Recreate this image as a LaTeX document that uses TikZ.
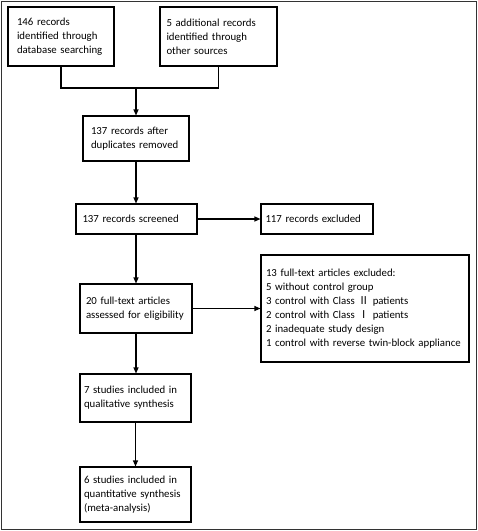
\documentclass[tikz,border=0pt]{standalone}
\usepackage{fontspec}
\setmainfont{Carlito}
\newfontfamily\cjkf{Noto Sans CJK SC}
\usetikzlibrary{arrows.meta}
\hyphenpenalty=10000
\exhyphenpenalty=10000
\tikzset{
  bx/.style n args={3}{draw, line width=1.1pt, rectangle, inner ysep=0pt,
    inner xsep=#3, text width=#1-2*#3, minimum height=#2, align=left,
    font=\fontsize{10.8}{13.9}\selectfont},
  arr/.style={line width=1.1pt, -{Triangle[length=6pt,width=5pt]}},
  ln/.style={line width=1.1pt}
}
\begin{document}
\begin{tikzpicture}[x=1pt,y=1pt]
\useasboundingbox (0,0) rectangle (478,-531);
\draw[line width=0.9pt, black!80] (1,-1) rectangle (476,-529);
\node[bx={106pt}{59pt}{9pt}] (b1) at (61,-36.5) {146 records\\identified through\\database searching};
\node[bx={117pt}{59pt}{6.5pt}] (b2) at (218.5,-36.5) {5 additional records\\identified through\\other sources};
\node[bx={106pt}{45pt}{8pt}] (b3) at (136,-138.5) {137 records after\\duplicates removed};
\node[bx={121pt}{30pt}{6.5pt}] (b4) at (136.5,-219) {137 records screened};
\node[bx={112pt}{30pt}{4.5pt}] (b5) at (317,-219) {117 records excluded};
\node[bx={112pt}{49pt}{6pt}] (b6) at (136,-308.5) {20 full-text articles\\assessed for eligibility};
\node[bx={208pt}{107pt}{5pt}] (b7) at (365,-308.5) {13 full-text articles excluded:\\5 without control group\\3 control with Class {\cjkf Ⅱ} patients\\2 control with Class {\cjkf Ⅰ} patients\\2 inadequate study design\\1 control with reverse twin-block appliance};
\node[bx={111pt}{48pt}{4pt}] (b8) at (135.5,-398) {7 studies included in\\qualitative synthesis};
\node[bx={111pt}{55pt}{4pt}] (b9) at (135.5,-494.5) {6 studies included in\\quantitative synthesis\\(meta-analysis)};
\coordinate (j) at (136,-88);
\draw[ln] (b1.south) -- (b1.south |- j) -- (b2.south |- j) -- (b2.south);
\draw[arr] (j) -- (b3.north);
\draw[arr] (b3.south) -- (b4.north -| b3.south);
\draw[arr] (b4.east) -- (b5.west);
\draw[arr] (b4.south -| b3.south) -- (b6.north);
\draw[arr] (b6.east) -- (b7.west);
\draw[arr] (b6.south) -- (b8.north -| b6.south);
\draw[arr] (b8.south) -- (b9.north);
\end{tikzpicture}
\end{document}
